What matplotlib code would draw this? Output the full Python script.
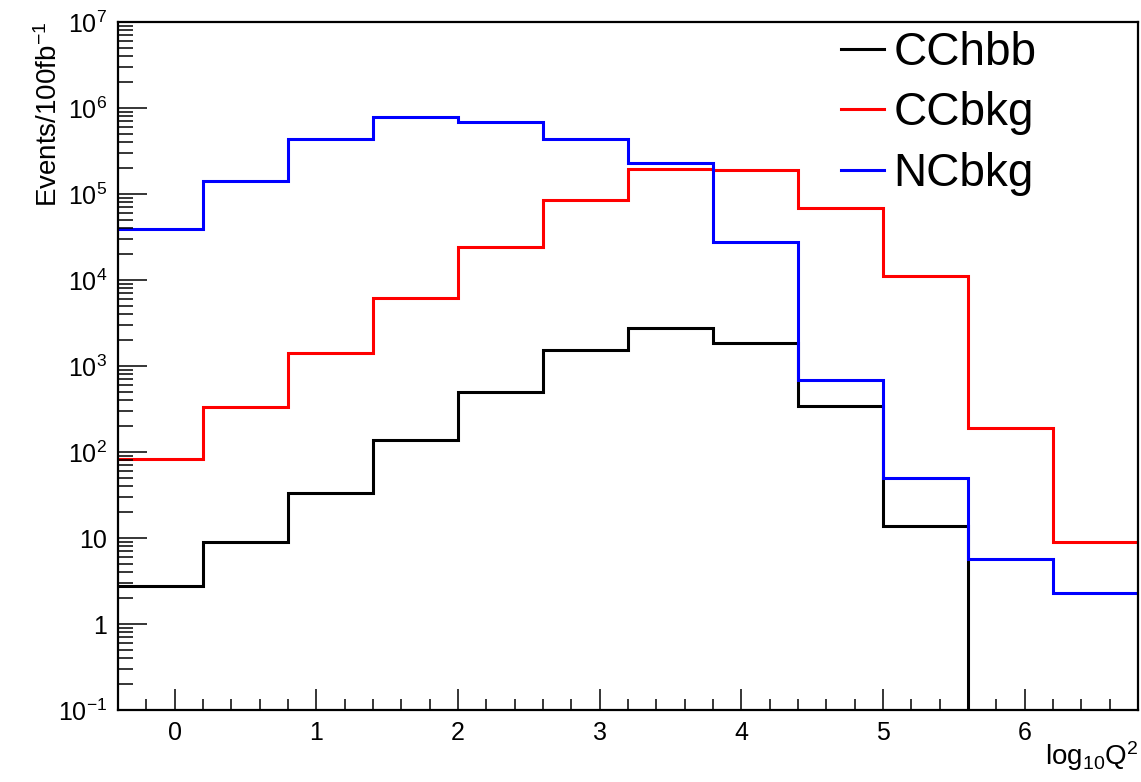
import numpy as np
import matplotlib
matplotlib.use("Agg")
import matplotlib.pyplot as plt
from matplotlib.ticker import FixedLocator, LogLocator, MultipleLocator, FuncFormatter

plt.rcParams['font.family'] = ['Liberation Sans', 'DejaVu Sans']
plt.rcParams['mathtext.default'] = 'regular'

# log10 Q^2 binning
edges = np.arange(-0.4, 6.81, 0.6)

cchbb = [2.8, 9, 33, 138, 500, 1530, 2770, 1850, 345, 13.8, 0, 0]
ccbkg = [83, 333, 1400, 6200, 24000, 85000, 195000, 190000, 69000, 11000, 190, 9]
ncbkg = [39000, 142000, 440000, 790000, 690000, 440000, 230000, 27500, 690, 50, 5.7, 2.3]

fig = plt.figure(figsize=(11.41, 7.82), dpi=100)
ax = fig.add_axes([118/1141, 72/782, 1020/1141, 688/782])

ax.stairs(cchbb, edges, color='black', lw=2.2, baseline=None, label='CChbb')
ax.stairs(ccbkg, edges, color='red', lw=2.2, baseline=None, label='CCbkg')
ax.stairs(ncbkg, edges, color='blue', lw=2.2, baseline=None, label='NCbkg')

ax.set_yscale('log', nonpositive='clip')
ax.set_xlim(-0.4, 6.8)
ax.set_ylim(0.1, 1e7)

def ylab(v, pos):
    e = int(round(np.log10(v)))
    if e == 0:
        return '1'
    if e == 1:
        return '10'
    return '$10^{%d}$' % e

ax.yaxis.set_major_locator(FixedLocator([10.0**k for k in range(-1, 8)]))
ax.yaxis.set_major_formatter(FuncFormatter(ylab))
ax.yaxis.set_minor_locator(LogLocator(base=10, subs=np.arange(2, 10), numticks=20))
ax.yaxis.set_minor_formatter(FuncFormatter(lambda v, p: ''))
ax.xaxis.set_major_locator(MultipleLocator(1))
ax.xaxis.set_minor_locator(MultipleLocator(0.2))

ax.tick_params(axis='both', which='both', direction='in', top=False, right=False,
               labelsize=18, width=1.1)
ax.tick_params(axis='y', which='major', length=21, pad=8)
ax.tick_params(axis='y', which='minor', length=11)
ax.tick_params(axis='x', which='major', length=15, pad=8)
ax.tick_params(axis='x', which='minor', length=8)
for s in ax.spines.values():
    s.set_linewidth(1.6)

ax.set_ylabel('Events/100fb$^{-1}$', fontsize=20, loc='top')
ax.yaxis.set_label_coords(-0.054, 1.0)
ax.set_xlabel('log$_{10}$Q$^{2}$', fontsize=20, loc='right')
ax.xaxis.set_label_coords(1.0, -0.043)

ax.legend(loc='upper left', bbox_to_anchor=(836/1141, 1 - 26/782),
          bbox_transform=fig.transFigure, frameon=False, fontsize=33,
          handlelength=0.95, handletextpad=0.2, labelspacing=0.36,
          borderpad=0.1, borderaxespad=0)

fig.savefig('out.png', dpi=100)
